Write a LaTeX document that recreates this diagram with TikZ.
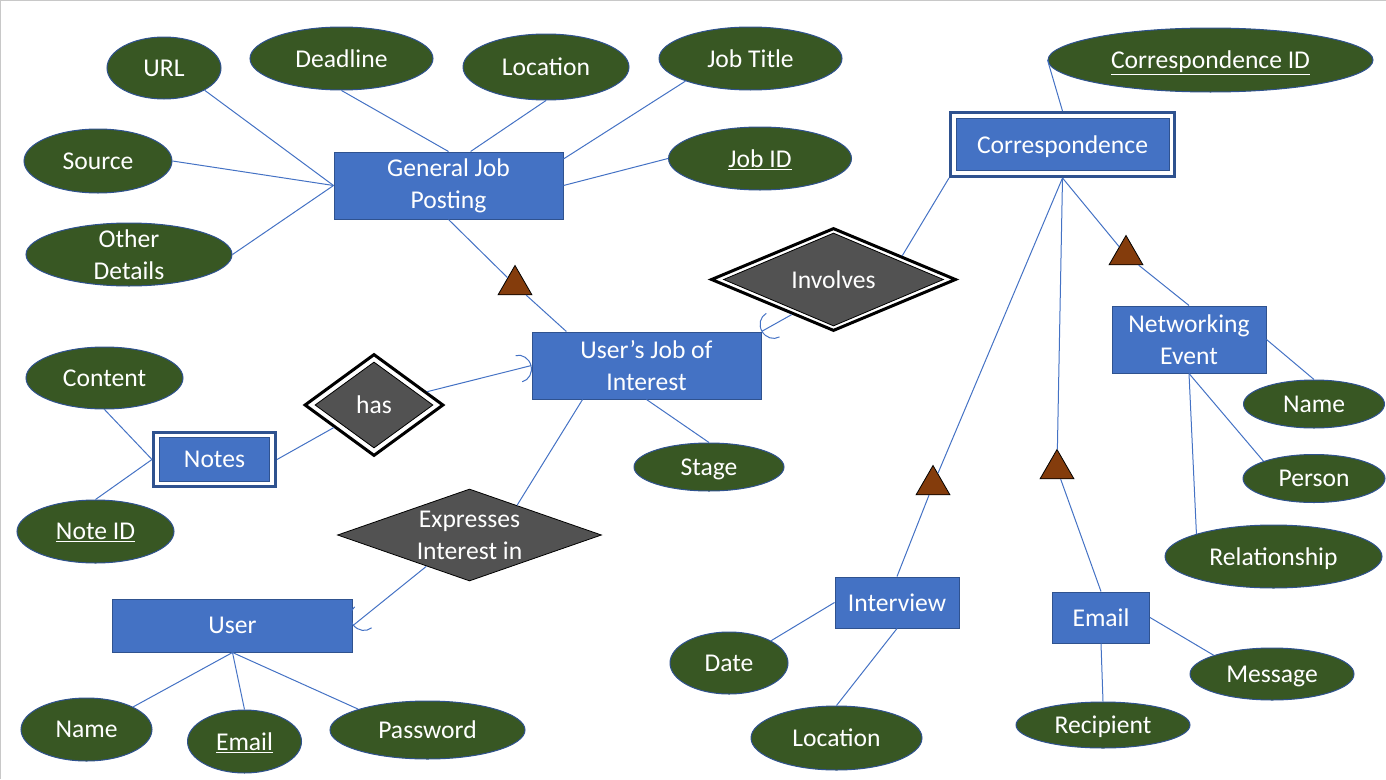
\documentclass[tikz,border=0pt]{standalone}
\usepackage{fontspec}
\setmainfont{Carlito}
\usepackage{tikz}
\usetikzlibrary{positioning,arrows.meta,shapes.geometric}
\definecolor{entblue}{HTML}{4472C4}
\definecolor{entedge}{HTML}{2F528F}
\definecolor{attgreen}{HTML}{385723}
\definecolor{relgray}{HTML}{525252}
\definecolor{isabrown}{HTML}{843C0C}
\definecolor{pagegray}{HTML}{C8C8C8}

\begin{document}
\begin{tikzpicture}[x=1pt, y=-1pt,
  every node/.style={font=\fontsize{25.6}{32}\selectfont, text=white, align=center, inner sep=0pt},
  entity/.style={rectangle, draw=entedge, line width=1pt, fill=entblue},
  weakframe/.style={rectangle, draw=entedge, line width=3pt, fill=white},
  attr/.style={ellipse, draw=entedge, line width=1pt, fill=attgreen},
  rel/.style={diamond, aspect=2.8, draw=black, line width=0.8pt, fill=relgray},
  relframe/.style={diamond, draw=black, line width=3pt, fill=white},
  isa/.style={regular polygon, regular polygon sides=3, draw=black, line width=0.8pt,
              fill=isabrown, minimum size=39pt},
  flat/.style={text depth=0pt},
  link/.style={draw=entblue, line width=1pt},
  card/.style={link, -{Arc Barb[length=13pt, width=28pt]}}
]
  \useasboundingbox (0,0) rectangle (1386,779);
  \draw[pagegray, line width=1pt] (0.5,779) -- (0.5,0.5) -- (1386,0.5);

  % General job posting and its attributes
  \node[entity, minimum width=229pt, minimum height=67pt] (GJP) at (448.5,185.5) {General Job\\Posting};
  \node[attr, minimum width=114pt, minimum height=62pt] (URL) at (164,68) {URL};
  \node[attr, minimum width=183pt, minimum height=63pt] (Deadline) at (341.5,58.5) {Deadline};
  \node[attr, minimum width=166pt, minimum height=66pt] (JobLoc) at (546,67) {Location};
  \node[attr, minimum width=183pt, minimum height=63pt] (JobTitle) at (750.5,58.5) {Job Title};
  \node[attr, minimum width=148pt, minimum height=64pt] (Source) at (98,161) {Source};
  \node[attr, flat, minimum width=183pt, minimum height=63pt] (JobID) at (760,158.5) {\underline{Job ID}};
  \node[attr, minimum width=206pt, minimum height=63pt, inner ysep=-6pt] (Other) at (129,254.5) {Other\\Details};

  % User's job of interest
  \node[entity, minimum width=229pt, minimum height=67pt] (UJI) at (646.5,365.5) {User’s Job of\\Interest};
  \node[attr, flat, minimum width=150pt, minimum height=48pt] (Stage) at (709,467) {Stage};
  \node[isa] (IsaJob) at (515,285) {};

  % Notes (weak entity) through "has"
  \node[relframe, minimum width=139pt, minimum height=102pt] (HasO) at (374,405) {};
  \node[rel, minimum width=118pt, minimum height=86pt] (Has) at (374,405) {has};
  \node[weakframe, minimum width=122pt, minimum height=54pt] (NotesO) at (214.5,459.5) {};
  \node[entity, minimum width=110pt, minimum height=44pt] (Notes) at (214.5,459.5) {Notes};
  \node[attr, minimum width=157pt, minimum height=62pt] (Content) at (104.5,378) {Content};
  \node[attr, flat, minimum width=157pt, minimum height=63pt] (NoteID) at (95.5,531.5) {\underline{Note ID}};

  % User
  \node[rel, minimum width=264pt, minimum height=92pt] (Expr) at (469.5,535) {Expresses\\Interest in};
  \node[entity, minimum width=240pt, minimum height=53pt] (User) at (232.5,625.5) {User};
  \node[attr, minimum width=131pt, minimum height=63pt] (UserName) at (86.5,729.5) {Name};
  \node[attr, flat, minimum width=114pt, minimum height=63pt] (UserEmail) at (244.5,741.5) {\underline{Email}};
  \node[attr, minimum width=195pt, minimum height=58pt] (Password) at (427.5,730) {Password};

  % Correspondence (weak entity) through "Involves"
  \node[relframe, minimum width=245pt, minimum height=103pt] (InvO) at (833.5,279.5) {};
  \node[rel, minimum width=220pt, minimum height=93pt] (Inv) at (833.5,279.5) {Involves};
  \node[weakframe, minimum width=224pt, minimum height=64pt] (CorrO) at (1062.5,144.5) {};
  \node[entity, flat, minimum width=213pt, minimum height=52pt] (Corr) at (1062.5,144.5) {Correspondence};
  \node[attr, flat, minimum width=325pt, minimum height=64pt] (CorrID) at (1210.5,60) {\underline{Correspondence ID}};

  % Subtypes of correspondence
  \node[isa] (IsaNet) at (1126,255) {};
  \node[isa] (IsaInt) at (933,485) {};
  \node[isa] (IsaMail) at (1057,469) {};

  \node[entity, minimum width=154pt, minimum height=67pt] (NetEvent) at (1189,339.5) {Networking\\Event};
  \node[attr, minimum width=141pt, minimum height=48pt] (NetName) at (1314,404) {Name};
  \node[attr, minimum width=142pt, minimum height=48pt] (Person) at (1314,478.5) {Person};
  \node[attr, flat, minimum width=217pt, minimum height=63pt] (Relation) at (1273.5,556.5) {Relationship};

  \node[entity, minimum width=124pt, minimum height=51pt] (Interview) at (897,602.5) {Interview};
  \node[attr, minimum width=118pt, minimum height=62pt] (Date) at (729,663) {Date};
  \node[attr, minimum width=171pt, minimum height=64pt] (IntLoc) at (836.5,738) {Location};

  \node[entity, minimum width=97pt, minimum height=51pt] (Email) at (1101,617.5) {Email};
  \node[attr, flat, minimum width=174pt, minimum height=46pt] (Recipient) at (1103,725) {Recipient};
  \node[attr, flat, minimum width=164pt, minimum height=52pt] (Message) at (1272,674) {Message};

  % Attribute links
  \draw[link] (URL.south east) -- (GJP.west);
  \draw[link] (Source.east) -- (GJP.west);
  \draw[link] (Other.east) -- (GJP.west);
  \draw[link] (Deadline.south) -- (GJP.north);
  \draw[link] (JobLoc.south) -- (GJP.57);
  \draw[link] (JobTitle.south west) -- (GJP.13);
  \draw[link] (JobID.west) -- (GJP.east);
  \draw[link] (UJI.south) -- (Stage.north);
  \draw[link] (Content.south) -- (NotesO.west);
  \draw[link] (NoteID.north) -- (NotesO.west);
  \draw[link] (User.south) -- (UserName.north east);
  \draw[link] (User.south) -- (UserEmail.north);
  \draw[link] (User.south) -- (Password.north west);
  \draw[link] (CorrID.west) -- (CorrO.north);
  \draw[link] (NetEvent.east) -- (NetName.north);
  \draw[link] (NetEvent.south) -- (Person.north west);
  \draw[link] (NetEvent.south) -- (Relation.north west);
  \draw[link] (Interview.west) -- (Date.north east);
  \draw[link] (Interview.south) -- (IntLoc.north);
  \draw[link] (Email.south) -- (Recipient.north);
  \draw[link] (Email.east) -- (Message.north west);

  % Relationships and subtype links
  \draw[link] (GJP.south) -- (IsaJob);
  \draw[link] (IsaJob) -- (UJI.157);
  \draw[card] (HasO) -- (UJI.west);
  \draw[link] (HasO) -- (NotesO.east);
  \draw[link] (UJI.208) -- (Expr.32);
  \draw[card] (Expr.216) -- (User.east);
  \draw[card] (InvO.220) -- (UJI.north east);
  \draw[link] (CorrO.south west) -- (InvO.19);
  \draw[link] (CorrO.south) -- (IsaNet);
  \draw[link] (IsaNet) -- (NetEvent.north);
  \draw[link] (CorrO.south) -- (IsaInt);
  \draw[link] (IsaInt) -- (Interview.north);
  \draw[link] (CorrO.south) -- (IsaMail);
  \draw[link] (IsaMail) -- (Email.north);
\end{tikzpicture}
\end{document}
